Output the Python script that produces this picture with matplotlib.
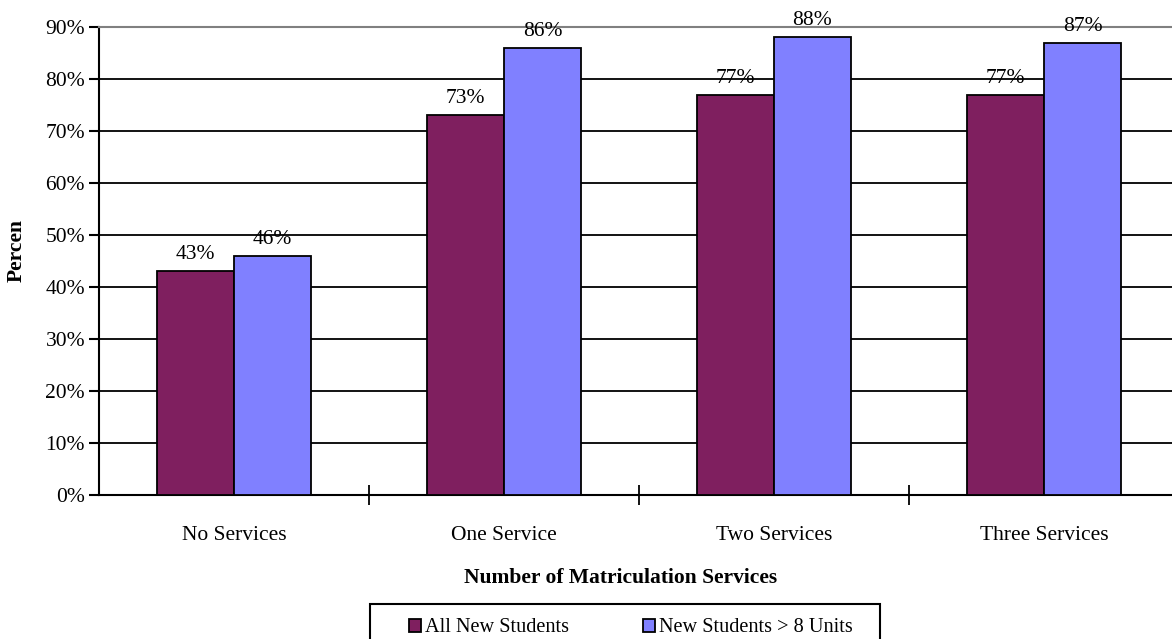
import numpy as np
import matplotlib.pyplot as plt
from matplotlib.patches import Patch, Rectangle

categories = ['No Services', 'One Service', 'Two Services', 'Three Services']
all_new = [43, 73, 77, 77]
new_gt8 = [46, 86, 88, 87]
series_names = ['All New Students', 'New Students > 8 Units']
yticks = [0, 10, 20, 30, 40, 50, 60, 70, 80, 90]

plt.rcParams['font.family'] = ['Liberation Serif', 'DejaVu Serif']
fs = 15.5
purple = '#7f1f5f'
blue = '#8080ff'

W, H = 1172, 639
fig = plt.figure(figsize=(W / 100, H / 100), dpi=100)
# plot area: left 99 px, right runs past the image edge, top 27, bottom 495
ax = fig.add_axes([99 / W, 1 - 495 / H, (1179 - 99) / W, (495 - 27) / H])

x = np.arange(len(categories)) + 0.5
bw = 0.285
b1 = ax.bar(x - bw / 2, all_new, bw, color=purple, edgecolor='black', linewidth=1.3, zorder=3)
b2 = ax.bar(x + bw / 2, new_gt8, bw, color=blue, edgecolor='black', linewidth=1.3, zorder=3)

for bars, vals in ((b1, all_new), (b2, new_gt8)):
    for r, v in zip(bars, vals):
        ax.annotate(f'{v}%', (r.get_x() + r.get_width() / 2, v), xytext=(0, 5),
                    textcoords='offset points', ha='center', va='bottom', fontsize=fs, zorder=4)

ax.set_xlim(0, len(categories))
ax.set_ylim(0, 90)
ax.set_yticks(yticks)
ax.set_yticklabels([f'{t}%' for t in yticks], fontsize=fs)
for t in yticks[1:-1]:
    ax.axhline(t, color='black', linewidth=1.3, zorder=1)

ax.set_xticks([1, 2, 3])
ax.set_xticklabels([])
ax.tick_params(axis='x', direction='inout', length=14, width=1.3)
ax.tick_params(axis='y', direction='out', length=7, width=1.5, pad=3)
for i, c in enumerate(categories):
    fig.text((99 + 270 * (i + 0.5)) / W, 1 - 536 / H, c, ha='center', va='center', fontsize=fs)

ax.spines['left'].set_linewidth(1.5)
ax.spines['bottom'].set_linewidth(1.5)
ax.spines['top'].set_color('#808080')
ax.spines['top'].set_linewidth(1.5)
ax.spines['right'].set_visible(False)

fig.text(17 / W, 1 - 250 / H, 'Percen', rotation=90, ha='center', va='center',
         fontsize=fs, fontweight='bold')
fig.text(621 / W, 1 - 578 / H, 'Number of Matriculation Services', ha='center', va='center',
         fontsize=fs, fontweight='bold')

# legend box (runs past the bottom edge like the original)
fig.patches.append(Rectangle((370 / W, 1 - 650 / H), (880 - 370) / W, (650 - 604) / H,
                             transform=fig.transFigure, facecolor='white',
                             edgecolor='black', linewidth=1.5))
handles = [Patch(facecolor=purple, edgecolor='black', linewidth=1.3),
           Patch(facecolor=blue, edgecolor='black', linewidth=1.3)]
leg = fig.legend(handles, series_names, ncol=2, loc='center left',
                 bbox_to_anchor=(409 / W, 1 - 628 / H), fontsize=14.6, frameon=False,
                 handlelength=0.6, handleheight=0.6, handletextpad=0.2,
                 columnspacing=3.65, borderpad=0, borderaxespad=0)

fig.savefig('out.png', dpi=100)
